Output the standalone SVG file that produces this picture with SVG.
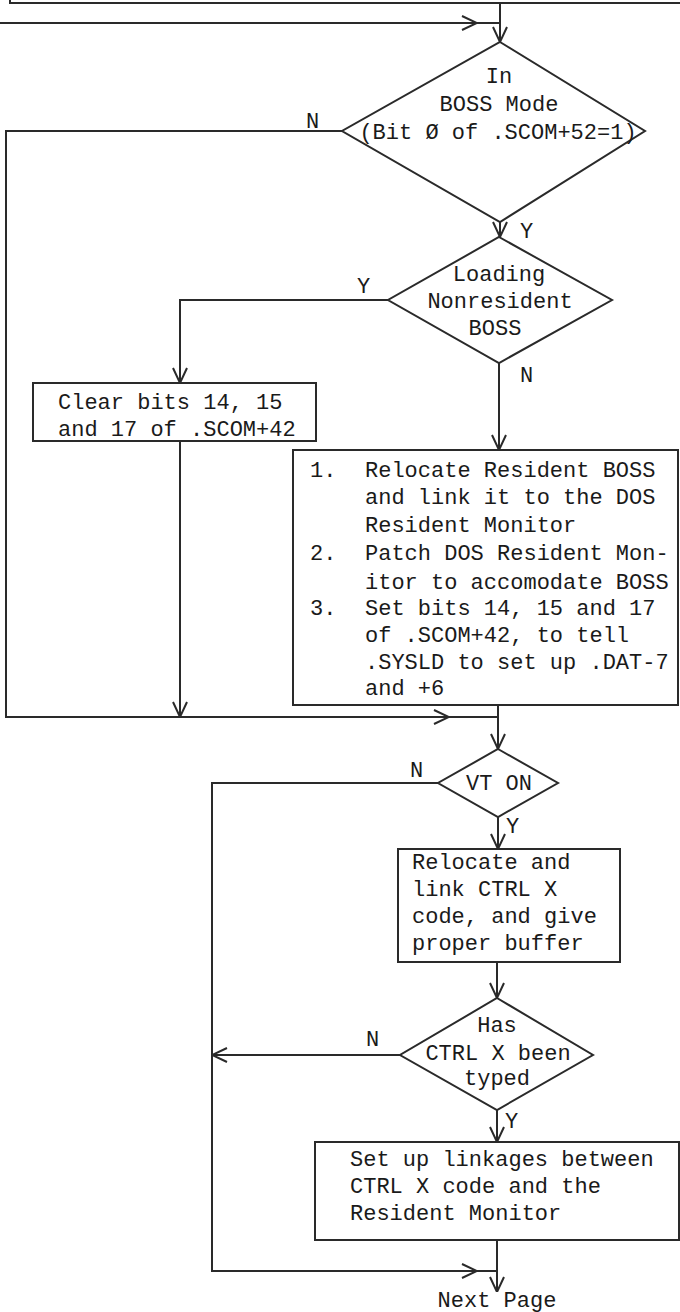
<svg xmlns="http://www.w3.org/2000/svg" width="680" height="1312" viewBox="0 0 680 1312">
<style>
.ln{fill:none;stroke:#2a2a2a;stroke-width:2}
.nd{fill:#fff;stroke:#2a2a2a;stroke-width:2}
.t{font-family:"Liberation Mono","DejaVu Sans Mono",monospace;font-size:22px;fill:#1a1a1a}
.c{text-anchor:middle}
</style>
<defs>
<marker id="a" markerUnits="userSpaceOnUse" viewBox="0 0 16 16" markerWidth="16" markerHeight="16" refX="16" refY="8" orient="auto">
<path d="M1,1 L16,8 L1,15" fill="none" stroke="#2a2a2a" stroke-width="2"/>
</marker>
</defs>
<rect width="680" height="1312" fill="#fff"/>
<g id="connectors">
<path class="ln" d="M0,23 H477" marker-end="url(#a)"/>
<path class="ln" d="M477,23 H500"/>
<path class="ln" d="M500,3 V42" marker-end="url(#a)"/>
<path class="ln" d="M500,222 V237" marker-end="url(#a)"/>
<path class="ln" d="M342,131 H6 V717 H449" marker-end="url(#a)"/>
<path class="ln" d="M449,717 H498"/>
<path class="ln" d="M388,300 H180 V383" marker-end="url(#a)"/>
<path class="ln" d="M499,363 V450" marker-end="url(#a)"/>
<path class="ln" d="M180,441 V717" marker-end="url(#a)"/>
<path class="ln" d="M498,705 V749" marker-end="url(#a)"/>
<path class="ln" d="M498,817 V849" marker-end="url(#a)"/>
<path class="ln" d="M438,783 H212 V1271 H477" marker-end="url(#a)"/>
<path class="ln" d="M477,1271 H497"/>
<path class="ln" d="M497,962 V998" marker-end="url(#a)"/>
<path class="ln" d="M400,1055 H212" marker-end="url(#a)"/>
<path class="ln" d="M497,1110 V1142" marker-end="url(#a)"/>
<path class="ln" d="M497,1240 V1292" marker-end="url(#a)"/>
<text class="t" x="306" y="128">N</text>
<text class="t" x="520" y="238">Y</text>
<text class="t" x="357" y="293">Y</text>
<text class="t" x="520" y="382">N</text>
<text class="t" x="410" y="777">N</text>
<text class="t" x="506" y="833">Y</text>
<text class="t" x="366" y="1046">N</text>
<text class="t" x="505" y="1128">Y</text>
</g>
<g id="prev-box">
<path class="ln" d="M10,0 V3 H682"/>
</g>
<g id="boss-mode">
<polygon class="nd" points="500,42 645,131 500,222 342,131"/>
<text class="t c" x="499" y="83">In</text>
<text class="t c" x="499" y="111">BOSS Mode</text>
<text class="t c" x="498" y="139">(Bit Ø of .SCOM+52=1)</text>
</g>
<g id="loading-nonresident">
<polygon class="nd" points="499,237 612,300 499,363 388,300"/>
<text class="t c" x="499" y="281">Loading</text>
<text class="t c" x="500" y="308">Nonresident</text>
<text class="t c" x="495" y="335">BOSS</text>
</g>
<g id="clear-bits">
<rect class="nd" x="33" y="383" width="283" height="58"/>
<text class="t" x="58" y="409">Clear bits 14, 15</text>
<text class="t" x="58" y="436">and 17 of .SCOM+42</text>
</g>
<g id="relocate-boss">
<rect class="nd" x="293" y="450" width="385" height="255"/>
<text class="t" x="310" y="477">1.</text>
<text class="t" x="365" y="477">Relocate Resident BOSS</text>
<text class="t" x="365" y="504">and link it to the DOS</text>
<text class="t" x="365" y="532">Resident Monitor</text>
<text class="t" x="310" y="560">2.</text>
<text class="t" x="365" y="560">Patch DOS Resident Mon-</text>
<text class="t" x="365" y="589">itor to accomodate BOSS</text>
<text class="t" x="310" y="615">3.</text>
<text class="t" x="365" y="615">Set bits 14, 15 and 17</text>
<text class="t" x="365" y="642">of .SCOM+42, to tell</text>
<text class="t" x="365" y="669">.SYSLD to set up .DAT-7</text>
<text class="t" x="365" y="695">and +6</text>
</g>
<g id="vt-on">
<polygon class="nd" points="498,749 558,783 498,817 438,783"/>
<text class="t c" x="499" y="790">VT ON</text>
</g>
<g id="relocate-ctrlx">
<rect class="nd" x="398" y="849" width="222" height="113"/>
<text class="t" x="412" y="869">Relocate and</text>
<text class="t" x="412" y="896">link CTRL X</text>
<text class="t" x="412" y="923">code, and give</text>
<text class="t" x="412" y="950">proper buffer</text>
</g>
<g id="ctrlx-typed">
<polygon class="nd" points="497,998 593,1055 497,1110 400,1055"/>
<text class="t c" x="497" y="1032">Has</text>
<text class="t c" x="498" y="1060">CTRL X been</text>
<text class="t c" x="497" y="1085">typed</text>
</g>
<g id="setup-linkages">
<rect class="nd" x="315" y="1142" width="364" height="98"/>
<text class="t" x="350" y="1166">Set up linkages between</text>
<text class="t" x="350" y="1193">CTRL X code and the</text>
<text class="t" x="350" y="1220">Resident Monitor</text>
</g>
<g id="next-page">
<text class="t c" x="497" y="1307">Next Page</text>
</g>
</svg>
